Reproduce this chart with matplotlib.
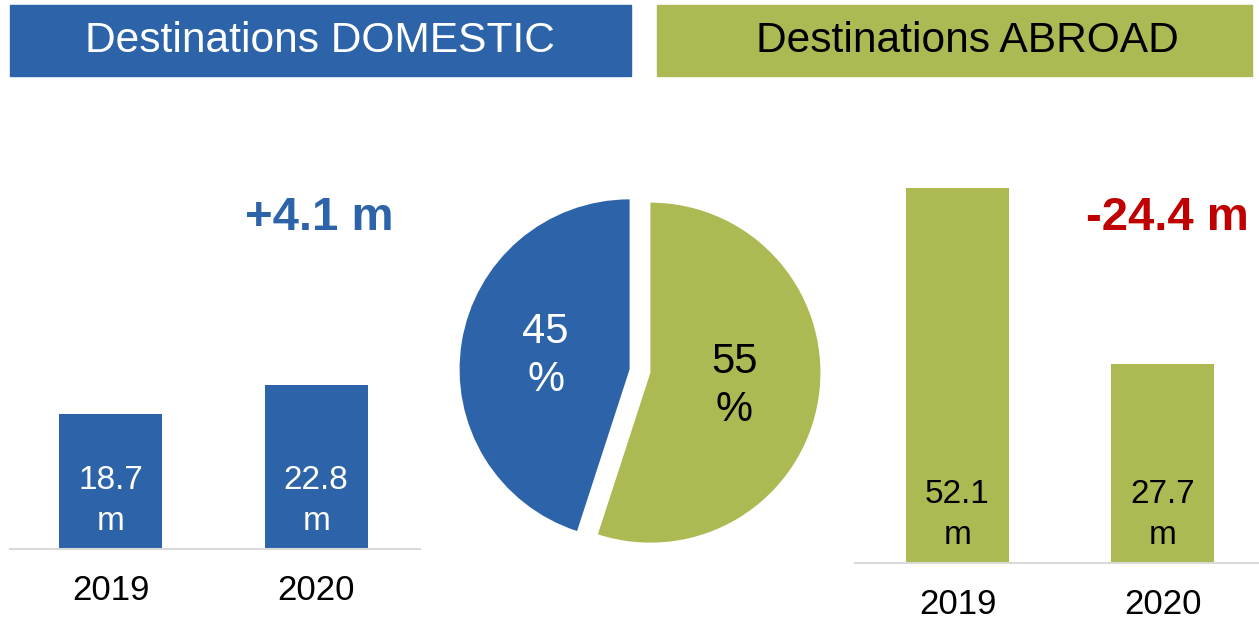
import matplotlib
matplotlib.use("Agg")
import matplotlib.pyplot as plt
from matplotlib.patches import Rectangle

plt.rcParams['font.family'] = ['Liberation Sans', 'DejaVu Sans']

years = ["2019", "2020"]
domestic = [18.7, 22.8]
abroad = [52.1, 27.7]
shares = [45, 55]
dom_change = "+4.1 m"
abr_change = "-24.4 m"

BLUE = "#2D63A8"
GREEN = "#ADBA53"
RED = "#C00000"
GRID = "#D9D9D9"

W, H = 1259, 619
fig = plt.figure(figsize=(W / 100, H / 100), dpi=100)


def px_axes(x0, y0, x1, y1):
    # pixel box (top-left origin) -> figure axes
    return fig.add_axes([x0 / W, 1 - y1 / H, (x1 - x0) / W, (y1 - y0) / H])


# header boxes
fig.patches.append(Rectangle((10 / W, 1 - 76 / H), 621 / W, 71 / H,
                             transform=fig.transFigure, color=BLUE, zorder=0))
fig.patches.append(Rectangle((657 / W, 1 - 76 / H), 595 / W, 71 / H,
                             transform=fig.transFigure, color=GREEN, zorder=0))
fig.text(320 / W, 1 - 41 / H, "Destinations DOMESTIC", color="white",
         fontsize=30.6, ha="center", va="center")
fig.text(967 / W, 1 - 41 / H, "Destinations ABROAD", color="black",
         fontsize=30.6, ha="center", va="center")

scale = 7.2  # px per million


def bar_panel(ax, vals, color, txtcolor, top_px, bottom_px, xl, xr):
    x = [0, 1]
    ax.bar(x, vals, width=0.5, color=color, zorder=2)
    ax.set_xlim(xl, xr)
    ax.set_ylim(0, (bottom_px - top_px) / scale)
    for xi, v in zip(x, vals):
        ax.text(xi, 48 / scale, f"{v}\nm", ha="center", va="center",
                color=txtcolor, fontsize=24, linespacing=1.45)
    ax.set_xticks(x)
    ax.set_xticklabels(years, fontsize=25)
    ax.tick_params(axis="x", length=0, pad=18)
    ax.set_yticks([])
    for s in ["top", "left", "right"]:
        ax.spines[s].set_visible(False)
    ax.spines["bottom"].set_color(GRID)
    ax.spines["bottom"].set_linewidth(1.5)
    ax.patch.set_alpha(0)


ax1 = px_axes(10, 160, 420, 549)
bar_panel(ax1, domestic, BLUE, "white", 160, 549, -0.49, 1.505)
ax1.text(0.755, 0.85, dom_change, transform=ax1.transAxes, color=BLUE,
         fontsize=34, fontweight="bold", ha="center", va="center")

ax3 = px_axes(855, 160, 1259, 563)
bar_panel(ax3, abroad, GREEN, "black", 160, 563, -0.5, 1.47)
ax3.text(0.975, 0.855, abr_change, transform=ax3.transAxes, color=RED,
         fontsize=34, fontweight="bold", ha="right", va="center")

# pie
axp = px_axes(640 - 190, 371 - 190, 640 + 190, 371 + 190)
wedges, texts, autotexts = axp.pie(
    shares, colors=[BLUE, GREEN], startangle=90, counterclock=True,
    explode=[0.062, 0.062], radius=1.0, pctdistance=0.5,
    autopct=lambda p: f"{p:.0f}\n%", textprops=dict(fontsize=30),
    wedgeprops=dict(linewidth=0))
autotexts[0].set_color("white")
autotexts[1].set_color("black")
for t in autotexts:
    t.set_linespacing(1.25)
axp.set_xlim(-190 / 170, 190 / 170)
axp.set_ylim(-190 / 170, 190 / 170)
axp.set_aspect("equal")
axp.axis("off")

fig.savefig("out.png", dpi=100)
